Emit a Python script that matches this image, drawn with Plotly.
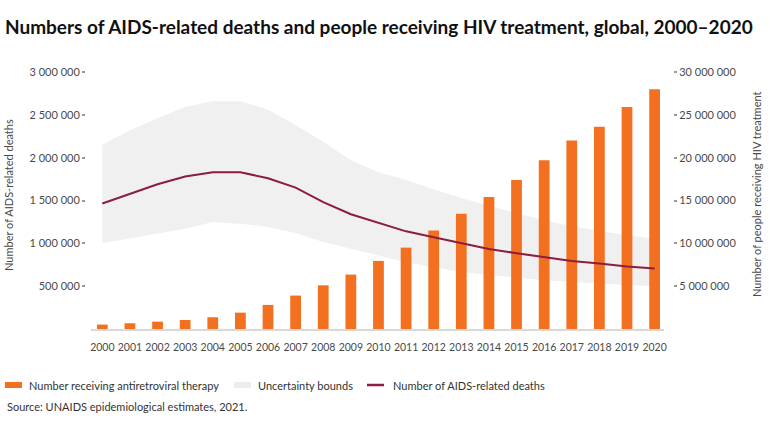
import plotly.graph_objects as go

years = list(range(2000, 2021))

# people receiving antiretroviral therapy (right axis)
art = [0.52e6, 0.67e6, 0.86e6, 1.05e6, 1.37e6, 1.91e6, 2.81e6, 3.90e6, 5.10e6, 6.35e6, 7.95e6,
       9.50e6, 11.5e6, 13.45e6, 15.4e6, 17.4e6, 19.7e6, 22.0e6, 23.6e6, 25.9e6, 28.0e6]

# AIDS-related deaths and uncertainty bounds (left axis)
deaths = [1.465e6, 1.58e6, 1.69e6, 1.78e6, 1.83e6, 1.83e6, 1.76e6, 1.65e6, 1.48e6, 1.34e6, 1.24e6,
          1.14e6, 1.07e6, 1.005e6, 0.935e6, 0.885e6, 0.84e6, 0.795e6, 0.765e6, 0.73e6, 0.705e6]
upper = [2.15e6, 2.32e6, 2.46e6, 2.59e6, 2.66e6, 2.66e6, 2.56e6, 2.38e6, 2.185e6, 1.97e6, 1.83e6,
         1.74e6, 1.63e6, 1.53e6, 1.44e6, 1.35e6, 1.27e6, 1.20e6, 1.145e6, 1.095e6, 1.05e6]
lower = [1.005e6, 1.055e6, 1.115e6, 1.17e6, 1.25e6, 1.23e6, 1.19e6, 1.12e6, 1.017e6, 0.94e6, 0.855e6,
         0.78e6, 0.72e6, 0.665e6, 0.63e6, 0.60e6, 0.57e6, 0.55e6, 0.53e6, 0.515e6, 0.50e6]

left_ticks = [500000, 1000000, 1500000, 2000000, 2500000, 3000000]
right_ticks = [5000000, 10000000, 15000000, 20000000, 25000000, 30000000]

title = "Numbers of AIDS-related deaths and people receiving HIV treatment, global, 2000–2020"
legend_labels = ["Number receiving antiretroviral therapy", "Uncertainty bounds", "Number of AIDS-related deaths"]
source = "Source: UNAIDS epidemiological estimates, 2021."

ORANGE = "#F37021"
MAROON = "#8C1D40"
BAND = "#F0F0F0"
TEXT = "#4a4a4a"
FONT = "Lato"

W, H = 770, 430
ML, MR, MT, MB = 85, 97, 72, 101
PW, PH = W - ML - MR, H - MT - MB


def px(x):
    return (x - ML) / PW


def py(y):
    return (H - MB - y) / PH


fig = go.Figure()

fig.add_trace(go.Scatter(x=years, y=lower, mode="lines", line=dict(width=0),
                         hoverinfo="skip", showlegend=False, yaxis="y"))
fig.add_trace(go.Scatter(x=years, y=upper, mode="lines", line=dict(width=0), fill="tonexty",
                         fillcolor=BAND, name=legend_labels[1], showlegend=False, yaxis="y"))
fig.add_trace(go.Bar(x=years, y=art, width=0.39, marker=dict(color=ORANGE, line=dict(width=0)),
                     name=legend_labels[0], showlegend=False, yaxis="y2"))
fig.add_trace(go.Scatter(x=years, y=deaths, mode="lines", line=dict(color=MAROON, width=2),
                         name=legend_labels[2], showlegend=False, yaxis="y3"))

# legend drawn by hand to keep the compact spacing
shapes = [
    dict(type="rect", xref="paper", yref="paper", x0=px(5), x1=px(22), y0=py(382), y1=py(388),
         fillcolor=ORANGE, line=dict(width=0)),
    dict(type="rect", xref="paper", yref="paper", x0=px(234), x1=px(251), y0=py(382), y1=py(388),
         fillcolor="#EDEDED", line=dict(width=0)),
    dict(type="line", xref="paper", yref="paper", x0=px(367), x1=px(384), y0=py(385), y1=py(385),
         line=dict(color=MAROON, width=2.5)),
]
annotations = [
    dict(text=legend_labels[0], x=px(27), y=py(385), xanchor="left", yanchor="middle"),
    dict(text=legend_labels[1], x=px(256), y=py(385), xanchor="left", yanchor="middle"),
    dict(text=legend_labels[2], x=px(391), y=py(385), xanchor="left", yanchor="middle"),
    dict(text=source, x=px(5), y=py(406), xanchor="left", yanchor="middle"),
]
for a in annotations:
    a.update(xref="paper", yref="paper", showarrow=False, font=dict(family=FONT, size=11, color="#333"))

annotations += [
    dict(text="Number of AIDS-related deaths", x=px(8), y=py(195), textangle=-90,
         xref="paper", yref="paper", showarrow=False, xanchor="center", yanchor="middle",
         font=dict(family=FONT, size=11, color=TEXT)),
    dict(text="Number of people receiving HIV treatment", x=px(756), y=py(194), textangle=-90,
         xref="paper", yref="paper", showarrow=False, xanchor="center", yanchor="middle",
         font=dict(family=FONT, size=11, color=TEXT)),
]

fig.update_layout(
    width=W, height=H,
    margin=dict(l=ML, r=MR, t=MT, b=MB),
    paper_bgcolor="white", plot_bgcolor="white",
    separators=". ",
    showlegend=False,
    title=dict(text="<b>" + title + "</b>", x=5 / W, xanchor="left", xref="container",
               y=1 - 27 / H, yanchor="middle", yref="container",
               font=dict(family=FONT, size=19, color="#111")),
    xaxis=dict(domain=[px(91), px(664)], range=[1999.59, 2020.34], tickmode="linear", dtick=1,
               tickformat="d", showgrid=False, zeroline=False, showline=True, linecolor="#d9d9d9",
               linewidth=1.5, ticks="", ticklabelstandoff=8,
               tickfont=dict(family=FONT, size=10.5, color=TEXT)),
    yaxis=dict(range=[0, 3000000], tickvals=left_ticks, tickformat=",", showgrid=False,
               zeroline=False, showline=False, ticks="outside", ticklen=3, tickwidth=1.5,
               tickcolor="#999", anchor="free", position=0,
               tickfont=dict(family=FONT, size=11, color=TEXT)),
    yaxis2=dict(range=[0, 30000000], tickvals=right_ticks, tickformat=",", showgrid=False,
                zeroline=False, showline=False, ticks="outside", ticklen=3, tickwidth=1.5,
                tickcolor="#999", overlaying="y", side="right", anchor="free", position=1,
                tickfont=dict(family=FONT, size=11, color=TEXT)),
    yaxis3=dict(range=[0, 3000000], overlaying="y", visible=False),
    shapes=shapes,
    annotations=annotations,
)

# page default body margin would push the chart 8px off the window corner
fig.write_html("out.html", config={"displayModeBar": False},
               post_script="document.body.style.margin='0';")
